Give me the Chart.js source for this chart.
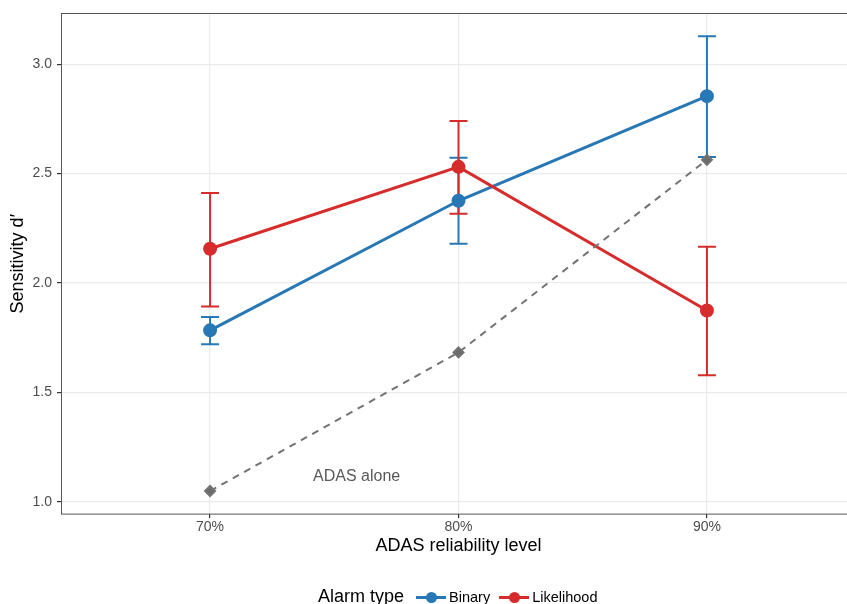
<!DOCTYPE html>
<html>
<head>
<meta charset="utf-8">
<script src="https://cdn.jsdelivr.net/npm/chart.js@4"></script>
<style>
  body { margin: 0; background: #fff; overflow: hidden; }
  #wrap { position: relative; width: 847px; height: 604px; overflow: hidden; }
  #legend {
    position: absolute; left: 318px; top: 586px;
    display: flex; align-items: center;
    font-family: "Liberation Sans", Arial, sans-serif; color: #000;
  }
  #legend .title { font-size: 18px; margin-right: 12px; }
  #legend .key { position: relative; width: 30px; height: 14px; margin-right: 3px; }
  #legend .key .ln { position: absolute; left: 0; right: 0; top: 6px; height: 3px; }
  #legend .key .dot { position: absolute; left: 10px; top: 2px; width: 11px; height: 11px; border-radius: 50%; }
  #legend .lab { font-size: 14.5px; margin-right: 9px; }
</style>
</head>
<body>
<div id="wrap">
  <!-- panel runs a few px past the right edge, like the original -->
  <canvas id="myChart" width="856" height="604"></canvas>
  <div id="legend">
    <span class="title">Alarm type</span>
    <span class="key"><span class="ln" style="background:#2878b5"></span><span class="dot" style="background:#2878b5"></span></span>
    <span class="lab">Binary</span>
    <span class="key"><span class="ln" style="background:#d62c2c"></span><span class="dot" style="background:#d62c2c"></span></span>
    <span class="lab">Likelihood</span>
  </div>
</div>
<script>
const levels = ['70%', '80%', '90%'];
const yTicks = [1.0, 1.5, 2.0, 2.5, 3.0];

const binary = [1.784, 2.376, 2.854];
const binaryLow = [1.72, 2.18, 2.576];
const binaryHigh = [1.845, 2.572, 3.128];

const likelihood = [2.157, 2.531, 1.875];
const likelihoodLow = [1.893, 2.317, 1.579];
const likelihoodHigh = [2.412, 2.740, 2.166];

const adasAlone = [1.05, 1.683, 2.563];

const blue = '#2878b5';
const red = '#d62c2c';
const grey = '#737373';
const font = '"Liberation Sans", Arial, sans-serif';

function pts(values) {
    return values.map((v, i) => ({ x: i, y: v }));
}

// error bars + panel border + label, drawn through the chart scales
const extras = {
    id: 'extras',
    beforeDatasetsDraw(chart) {
        const { ctx, scales: { x, y } } = chart;
        const bars = [
            { low: binaryLow, high: binaryHigh, color: blue },
            { low: likelihoodLow, high: likelihoodHigh, color: red }
        ];
        ctx.save();
        ctx.lineWidth = 2;
        bars.forEach(b => {
            ctx.strokeStyle = b.color;
            b.low.forEach((lo, i) => {
                const px = x.getPixelForValue(i);
                const y1 = y.getPixelForValue(lo);
                const y2 = y.getPixelForValue(b.high[i]);
                ctx.beginPath();
                ctx.moveTo(px, y1); ctx.lineTo(px, y2);
                ctx.moveTo(px - 9, y1); ctx.lineTo(px + 9, y1);
                ctx.moveTo(px - 9, y2); ctx.lineTo(px + 9, y2);
                ctx.stroke();
            });
        });
        ctx.restore();
    },
    afterDraw(chart) {
        const { ctx, chartArea: a, scales: { x, y } } = chart;
        ctx.save();
        ctx.strokeStyle = '#555';
        ctx.lineWidth = 1;
        ctx.strokeRect(Math.round(a.left) + 0.5, Math.round(a.top) + 0.5, a.right - a.left, a.bottom - a.top);
        ctx.fillStyle = '#595959';
        ctx.font = '16px ' + font;
        ctx.textAlign = 'center';
        ctx.textBaseline = 'middle';
        ctx.fillText('ADAS alone', x.getPixelForValue(0.59), y.getPixelForValue(1.118));
        ctx.restore();
    }
};

const ctx = document.getElementById('myChart').getContext('2d');

new Chart(ctx, {
    type: 'line',
    data: {
        datasets: [
            {
                label: 'ADAS alone',
                data: pts(adasAlone),
                borderColor: grey,
                backgroundColor: '#6b6b6b',
                borderWidth: 2,
                borderDash: [7, 6],
                pointStyle: 'rectRot',
                pointRadius: 5,
                order: 0
            },
            {
                label: 'Binary',
                data: pts(binary),
                borderColor: blue,
                backgroundColor: blue,
                borderWidth: 3,
                pointRadius: 5.5,
                order: 2
            },
            {
                label: 'Likelihood',
                data: pts(likelihood),
                borderColor: red,
                backgroundColor: red,
                borderWidth: 3,
                pointRadius: 5.5,
                order: 1
            }
        ]
    },
    options: {
        responsive: false,
        animation: false,
        layout: { autoPadding: false, padding: { top: 12, right: 0, bottom: 0, left: 0 } },
        plugins: {
            legend: { display: false },
            tooltip: { enabled: false }
        },
        elements: { point: { borderWidth: 0 }, line: { tension: 0 } },
        scales: {
            x: {
                type: 'linear',
                min: -0.6,
                max: 2.6,
                afterBuildTicks: s => { s.ticks = levels.map((l, i) => ({ value: i })); },
                afterFit: s => { s.height = 90; },
                grid: { color: '#ebebeb', lineWidth: 1.2, tickColor: '#333', tickLength: 4 },
                border: { display: false },
                ticks: {
                    color: '#4d4d4d',
                    font: { family: font, size: 14 },
                    padding: 1,
                    maxRotation: 0,
                    callback: v => levels[v]
                },
                title: {
                    display: true,
                    text: 'ADAS reliability level',
                    color: '#000',
                    font: { family: font, size: 18 },
                    padding: { top: 0, bottom: 47 }
                }
            },
            y: {
                type: 'linear',
                min: 0.945,
                max: 3.232,
                afterBuildTicks: s => { s.ticks = yTicks.map(v => ({ value: v })); },
                afterFit: s => { s.width = 61; },
                grid: { color: '#ebebeb', lineWidth: 1.2, tickColor: '#333', tickLength: 4 },
                border: { display: false },
                ticks: {
                    color: '#4d4d4d',
                    font: { family: font, size: 14 },
                    padding: 5,
                    callback: v => v.toFixed(1)
                },
                title: {
                    display: true,
                    text: 'Sensitivity d′',
                    color: '#000',
                    font: { family: font, size: 18 },
                    padding: { top: 7, bottom: 0 }
                }
            }
        }
    },
    plugins: [extras]
});
</script>
</body>
</html>
